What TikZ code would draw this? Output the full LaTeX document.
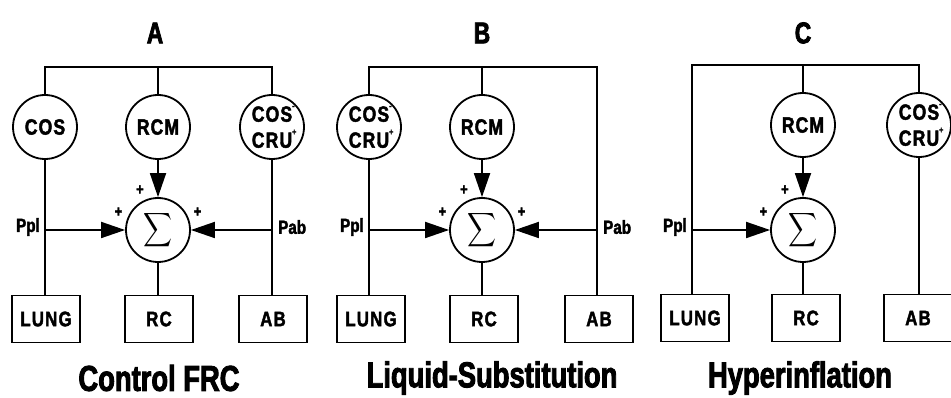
\documentclass[tikz,border=0pt]{standalone}
\usepackage{fontspec}
\setmainfont{Liberation Sans Bold}[FakeStretch=0.8,FakeBold=2]
\newfontfamily\capfont{Liberation Sans Bold}[FakeStretch=0.76,FakeBold=2.5]
\usetikzlibrary{arrows.meta}

\tikzset{
  wire/.style={line width=1.8pt},
  feed/.style={wire,-{Triangle[length=24pt,width=16pt]}},
  ctrl/.style={circle,draw,line width=1.8pt,minimum size=64pt,inner sep=0pt,
    font=\fontsize{22}{26}\selectfont\addfontfeature{LetterSpace=5},align=center},
  sumnode/.style={circle,draw,line width=1.8pt,minimum size=64pt,inner sep=0pt},
  organ/.style={rectangle,draw,line width=1.8pt,minimum width=68pt,minimum height=47pt,
    font=\fontsize{21}{24}\selectfont\addfontfeature{LetterSpace=6}},
  sig/.style={font=\fontsize{19}{19}\selectfont,inner sep=0pt},
  panel/.style={font=\capfont\fontsize{30}{30}\selectfont},
  caption/.style={font=\capfont\fontsize{36}{36}\selectfont,inner sep=0pt},
  plusmark/.style={font=\fontsize{16}{16}\selectfont,inner sep=0pt,label distance=5pt},
  pT/.style={label={[plusmark]112:+}},
  pL/.style={label={[plusmark]160:+}},
  pR/.style={label={[plusmark]20:+}},
}
\newcommand{\cosru}{COS\rlap{\raisebox{1.1ex}{\fontsize{9}{9}\selectfont -}}\\CRU\rlap{\raisebox{1.1ex}{\fontsize{9}{9}\selectfont +}}}
\newcommand{\sumsign}{\resizebox*{29pt}{38pt}{$\displaystyle\sum$}}

\begin{document}
\begin{tikzpicture}[x=1pt,y=-1pt]
\useasboundingbox (0,0) rectangle (951,398);

% A -- control FRC
\node[panel] (tA) at (155,33) {A};
\coordinate (busA) at (158,67);
\node[ctrl] (cosA) at (45,127) {COS};
\node[ctrl] (rcmA) at (158,127) {RCM};
\node[ctrl] (cruA) at (272,127) {\cosru};
\node[sumnode,pT,pL,pR] (sumA) at (158,230) {\sumsign};
\node[organ] (lungA) at (46,319) {LUNG};
\node[organ] (rcA) at (159,319) {RC};
\node[organ] (abA) at (273,319) {AB};
\node[sig,anchor=east] (pplA) at (40,227) {Ppl};
\node[sig,anchor=west] (pabA) at (278,227) {Pab};
\node[caption] (capA) at (159,378) {Control FRC};
\draw[wire] (cosA) |- (busA) -| (cruA);
\draw[wire] (busA) -- (rcmA);
\draw[wire] (cosA) -- (cosA |- lungA.north);
\draw[wire] (cruA) -- (cruA |- abA.north);
\draw[wire] (sumA) -- (sumA |- rcA.north);
\draw[feed] (rcmA) -- (sumA);
\draw[feed] (cosA |- sumA) -- (sumA);
\draw[feed] (cruA |- sumA) -- (sumA);

% B -- liquid substitution
\node[panel] (tB) at (482,33) {B};
\coordinate (busB) at (482,67);
\node[ctrl] (cruB) at (369,127) {\cosru};
\node[ctrl] (rcmB) at (482,127) {RCM};
\node[sumnode,pT,pL,pR] (sumB) at (482,230) {\sumsign};
\node[organ] (lungB) at (371,319) {LUNG};
\node[organ] (rcB) at (484,319) {RC};
\node[organ] (abB) at (599,319) {AB};
\node[sig,anchor=east] (pplB) at (364,227) {Ppl};
\node[sig,anchor=west] (pabB) at (603,227) {Pab};
\node[caption] (capB) at (492,378) {Liquid-Substitution};
\draw[wire] (cruB) |- (busB) -| (abB.north -| 597,0);
\draw[wire] (busB) -- (rcmB);
\draw[wire] (cruB) -- (cruB |- lungB.north);
\draw[wire] (sumB) -- (sumB |- rcB.north);
\draw[feed] (rcmB) -- (sumB);
\draw[feed] (cruB |- sumB) -- (sumB);
\draw[feed] (597,0 |- sumB) -- (sumB);

% C -- hyperinflation
\node[panel] (tC) at (803,33) {C};
\coordinate (busC) at (803,65);
\node[ctrl] (rcmC) at (803,125) {RCM};
\node[ctrl] (cruC) at (919,125) {\cosru};
\node[sumnode,pT,pL] (sumC) at (803,230) {\sumsign};
\node[organ] (lungC) at (695,318) {LUNG};
\node[organ] (rcC) at (806,318) {RC};
\node[organ] (abC) at (918,318) {AB};
\node[sig,anchor=east] (pplC) at (687,227) {Ppl};
\node[caption] (capC) at (800,378) {Hyperinflation};
\draw[wire] (lungC.north -| 692,0) |- (busC) -| (cruC);
\draw[wire] (busC) -- (rcmC);
\draw[wire] (cruC) -- (cruC |- abC.north);
\draw[wire] (sumC) -- (sumC |- rcC.north);
\draw[feed] (rcmC) -- (sumC);
\draw[feed] (692,0 |- sumC) -- (sumC);
\end{tikzpicture}
\end{document}
